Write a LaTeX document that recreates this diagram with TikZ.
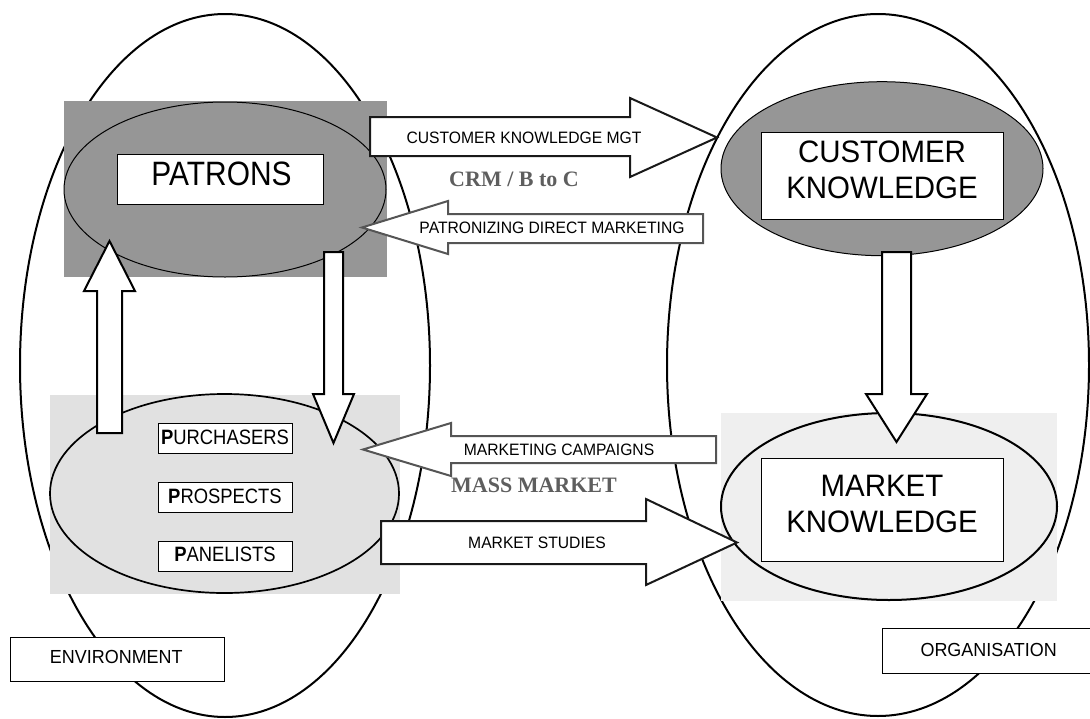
\documentclass[tikz,border=0pt]{standalone}
\usepackage{fontspec}
\setmainfont{Liberation Sans}
\newfontfamily\serifface{Liberation Serif}
\newfontfamily\narrowA{Liberation Sans}[FakeStretch=0.885]
\newfontfamily\narrowB{Liberation Sans}[FakeStretch=0.95]
\usetikzlibrary{shapes.geometric}
\definecolor{darkfill}{HTML}{969696}
\definecolor{lightA}{HTML}{E1E1E1}
\definecolor{lightB}{HTML}{EFEFEF}
\definecolor{arrowgray}{HTML}{555555}
\definecolor{labelgray}{HTML}{5E5E5E}
\tikzset{
  bigell/.style={ellipse, draw=black, line width=2pt, inner sep=0pt},
  smallell/.style={ellipse, draw=black, inner sep=0pt},
  labelbox/.style={draw=black, line width=1pt, fill=white, inner sep=0pt},
  blockR/.style={draw=black!90, line width=2pt, fill=white, line join=miter},
  blockL/.style={draw=arrowgray, line width=2pt, fill=white, line join=miter},
  blockV/.style={draw=black, line width=2pt, fill=white, line join=miter},
  arrowtext/.style={inner sep=0pt, anchor=base, font=\narrowB\fontsize{16.5}{19}\selectfont},
  bigtext/.style={inner sep=0pt, anchor=north, align=center, font=\narrowB\fontsize{31}{36}\selectfont},
  pattext/.style={inner sep=0pt, anchor=base, font=\narrowA\fontsize{33.8}{36}\selectfont},
  smalltext/.style={inner sep=0pt, anchor=base, font=\narrowA\fontsize{20.8}{24}\selectfont},
  sidetext/.style={inner sep=0pt, anchor=base, font=\narrowB\fontsize{18.9}{22}\selectfont},
  serifgray/.style={inner sep=0pt, anchor=base, text=labelgray, font=\serifface\bfseries\fontsize{22}{26}\selectfont},
}
\begin{document}
\begin{tikzpicture}[x=1pt,y=-1pt]
\useasboundingbox (0,0) rectangle (1090,718);
% big ellipses
\node[bigell, minimum width=410, minimum height=703] (envell) at (225,365.5) {};
\node[bigell, minimum width=422, minimum height=702] (orgell) at (878,365) {};
% background rectangles
\fill[darkfill] (64,101) rectangle (387,277);
\fill[lightA] (50,395) rectangle (400,594);
\fill[lightB] (721,413) rectangle (1057,601);
% small ellipses
\node[smallell, fill=darkfill, line width=1pt, minimum width=322, minimum height=175] (patell) at (225,189.5) {};
\node[smallell, fill=lightA, line width=1.7pt, minimum width=349, minimum height=199] (ppell) at (224.5,493.5) {};
\node[smallell, fill=darkfill, line width=1pt, minimum width=322, minimum height=174] (custell) at (882,168.7) {};
\node[smallell, fill=lightB, line width=2pt, minimum width=336, minimum height=187] (markell) at (889,506.5) {};
% boxes
\node[labelbox, minimum width=206, minimum height=50] (patbox) at (220,179) {};
\node[pattext] (pattxt) at (221.5,185.5) {PATRONS};
\node[labelbox, minimum width=242, minimum height=87] (custbox) at (882,175.5) {};
\node[bigtext] (custtxt) at (882,140.5) {CUSTOMER\\KNOWLEDGE};
\node[labelbox, minimum width=242, minimum height=103] (markbox) at (882,509.5) {};
\node[bigtext] (marktxt) at (882,474.5) {MARKET\\KNOWLEDGE};
\node[labelbox, minimum width=134, minimum height=30] (purbox) at (225,438) {};
\node[smalltext] (purtxt) at (225,444.6) {\textbf{P}URCHASERS};
\node[labelbox, minimum width=134, minimum height=30] (probox) at (225,497) {};
\node[smalltext] (protxt) at (225,503) {\textbf{P}ROSPECTS};
\node[labelbox, minimum width=134, minimum height=30] (panbox) at (225,556) {};
\node[smalltext] (pantxt) at (225,561.3) {\textbf{P}ANELISTS};
\node[labelbox, minimum width=214, minimum height=44] (envbox) at (117,659) {};
\node[sidetext] (envtxt) at (116.3,663.5) {ENVIRONMENT};
\node[labelbox, minimum width=208, minimum height=45] (orgbox) at (986,650.5) {};
\node[sidetext] (orgtxt) at (988.7,656.2) {ORGANISATION};
% vertical block arrows
\draw[blockV] (97,433) -- (97,291) -- (84,291) -- (109.5,241) -- (135,291) -- (122,291) -- (122,433) -- cycle;
\draw[blockV] (324,252) -- (343,252) -- (343,394) -- (354,394) -- (333.5,443) -- (313,394) -- (324,394) -- cycle;
\draw[blockV] (882,252) -- (911,252) -- (911,394) -- (927,394) -- (896.5,442) -- (866,394) -- (882,394) -- cycle;
% horizontal block arrows
\draw[blockR] (370,117) -- (630,117) -- (630,98) -- (717,137.5) -- (630,177) -- (630,156) -- (370,156) -- cycle;
\node[arrowtext] (ckmtxt) at (524,143.3) {CUSTOMER KNOWLEDGE MGT};
\node[serifgray] (crmtxt) at (514,186.7) {CRM / B to C};
\draw[blockL] (703,214) -- (448,214) -- (448,201) -- (362,227.5) -- (448,254) -- (448,243) -- (703,243) -- cycle;
\node[arrowtext] (pdmtxt) at (552,233.5) {PATRONIZING DIRECT MARKETING};
\draw[blockL] (716,436) -- (451,436) -- (451,423) -- (363,449.5) -- (451,476) -- (451,463) -- (716,463) -- cycle;
\node[arrowtext] (mctxt) at (559,455.7) {MARKETING CAMPAIGNS};
\node[serifgray] (mmtxt) at (534,492.7) {MASS MARKET};
\draw[blockR] (381,521) -- (646,521) -- (646,499) -- (737,542.5) -- (646,585) -- (646,564) -- (381,564) -- cycle;
\node[arrowtext] (mstxt) at (537,548.3) {MARKET STUDIES};
\end{tikzpicture}
\end{document}
